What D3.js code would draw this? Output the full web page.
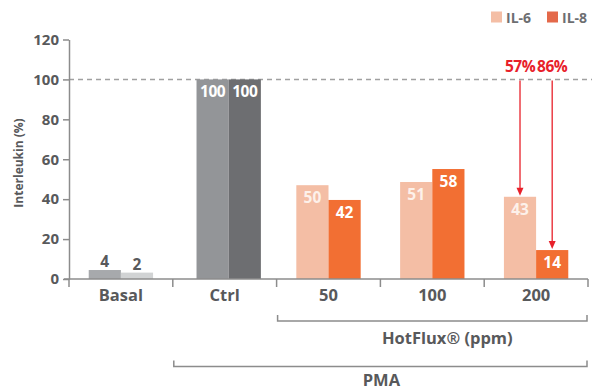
<!DOCTYPE html>
<html><head><meta charset="utf-8">
<script src="https://cdn.jsdelivr.net/npm/d3@7"></script>
<style>
body{margin:0;background:#fff;}
svg{display:block;font-family:"Open Sans",sans-serif;font-weight:700;}
</style></head>
<body><svg id="c" width="595" height="391"></svg>
<script>
const categories = ["Basal","Ctrl","50","100","200"];
const series = ["IL-6","IL-8"];
const valuesA = [4.5, 100, 47, 48.6, 41.2];   // first bar heights (%)
const valuesB = [3.2, 100, 39.6, 55.1, 14.5]; // second bar heights (%)
const labelsA = ["4","100","50","51","43"];
const labelsB = ["2","100","42","58","14"];
const yTicks = [0,20,40,60,80,100,120];
const reductions = [{label:"57%", cat:"200", s:0}, {label:"86%", cat:"200", s:1}];

const colorsA = ["#a7a9ac","#939598","#f4bea5","#f4bea5","#f4bea5"];
const colorsB = ["#d1d3d4","#6d6e71","#f26f33","#f26f33","#f26f33"];
const legendColors = ["#f4bea5","#e4694a"];
const textGray = "#58595b";
const red = "#e8202a";

const svg = d3.select("#c");
const x0 = 69, x1 = 588, yBase = 279;
const x = d3.scaleBand().domain(categories).range([x0,x1]).paddingInner(0.38).paddingOuter(0.19);
const xs = d3.scaleBand().domain([0,1]).range([0,x.bandwidth()]);
const y = d3.scaleLinear().domain([0,120]).range([yBase,39.5]);
const boundary = c => x(c) - x.step()*x.paddingInner()/2;

// dashed reference line at 100
svg.append("line").attr("x1",x0).attr("x2",592).attr("y1",y(100)).attr("y2",y(100))
  .attr("stroke","#a0a0a0").attr("stroke-width",1.5).attr("stroke-dasharray","5,4");

// bars
const data = categories.map((c,i)=>({c,i,vals:[valuesA[i],valuesB[i]],labs:[labelsA[i],labelsB[i]],cols:[colorsA[i],colorsB[i]]}));
const g = svg.append("g").selectAll("g").data(data).join("g")
  .attr("transform",d=>`translate(${x(d.c) + (d.c==="Ctrl"?4:0)},0)`);
g.selectAll("rect").data(d=>[0,1].map(s=>({s,v:d.vals[s],col:d.cols[s]}))).join("rect")
  .attr("x",d=>xs(d.s)).attr("width",xs.bandwidth())
  .attr("y",d=>y(d.v)).attr("height",d=>yBase-y(d.v)).attr("fill",d=>d.col);
g.selectAll("text").data(d=>[0,1].map(s=>({s,v:d.vals[s],lab:d.labs[s],ci:d.i}))).join("text")
  .attr("x",d=>xs(d.s)+xs.bandwidth()/2)
  .attr("y",d=>d.v<10 ? y(d.v)-3 : y(d.v)+18)
  .attr("text-anchor","middle").attr("font-size",15.5)
  .attr("fill",d=>d.v<10 ? textGray : (d.ci>=2 && d.s===0 ? "#fdf1ea" : "#fff"))
  .attr("letter-spacing",d=>d.lab.length>2?-0.5:0)
  .text(d=>d.lab);

// y axis
const ya = svg.append("g").attr("transform",`translate(${x0},0)`)
  .call(d3.axisLeft(y).tickValues(yTicks).tickSize(6).tickSizeOuter(0).tickPadding(4));
ya.select(".domain").attr("stroke","#8c8c8c").attr("stroke-width",1.5);
ya.selectAll(".tick line").attr("stroke","#8c8c8c").attr("stroke-width",1.5);
ya.selectAll(".tick text").attr("fill",textGray).attr("font-size",15).attr("font-family","'Open Sans',sans-serif").attr("font-weight",700);

// x axis
svg.append("line").attr("x1",64).attr("x2",x1).attr("y1",yBase).attr("y2",yBase)
  .attr("stroke","#8c8c8c").attr("stroke-width",1.5);
const bounds = categories.map(boundary).concat([x1]);
svg.append("g").selectAll("line").data(bounds).join("line")
  .attr("x1",d=>d).attr("x2",d=>d).attr("y1",yBase).attr("y2",yBase+8)
  .attr("stroke","#8c8c8c").attr("stroke-width",1.5);
const xa = svg.append("g").attr("transform",`translate(0,${yBase})`)
  .call(d3.axisBottom(x).tickSize(0).tickPadding(0));
xa.select(".domain").remove();
xa.selectAll(".tick text").attr("dy",null).attr("y",21.5).attr("fill",textGray)
  .attr("font-size",16.5).attr("font-family","'Open Sans',sans-serif").attr("font-weight",700);

// brackets
function bracket(xa_, xb, yy, label, ly, off){
  svg.append("path").attr("d",`M${xa_},${yy-6}V${yy}H${xb}V${yy-6}`)
    .attr("fill","none").attr("stroke","#8c8c8c").attr("stroke-width",1.5);
  svg.append("text").attr("x",(xa_+xb)/2+off).attr("y",ly).attr("text-anchor","middle")
    .attr("fill",textGray).attr("font-size",16.5).text(label);
}
bracket(boundary("50")+1, x1-1, 321, "HotFlux® (ppm)", 343.5, 15);
bracket(boundary("Ctrl")+1, x1-1, 366.5, "PMA", 386, 1);

// y label
svg.append("text").attr("transform","translate(23,163) rotate(-90)").attr("text-anchor","middle")
  .attr("fill",textGray).attr("font-size",12).text("Interleukin (%)");

// annotations
const anno = svg.append("g");
reductions.forEach(r=>{
  const i = categories.indexOf(r.cat);
  const v = r.s===0 ? valuesA[i] : valuesB[i];
  const cx = x(r.cat)+xs(r.s)+xs.bandwidth()/2;
  const tip = y(v)-1;
  anno.append("line").attr("x1",cx).attr("x2",cx).attr("y1",y(100)+1).attr("y2",tip-6)
    .attr("stroke",red).attr("stroke-width",1.3);
  anno.append("path").attr("d",`M${cx-3.5},${tip-8}L${cx+3.5},${tip-8}L${cx},${tip}Z`).attr("fill",red);
  anno.append("text").attr("x",cx).attr("y",71.5).attr("text-anchor","middle")
    .attr("fill",red).attr("font-size",15.5).attr("letter-spacing",-0.5).text(r.label);
});

// legend
const lg = svg.append("g");
const lx = [491, 547];
series.forEach((s,i)=>{
  lg.append("rect").attr("x",lx[i]).attr("y",11.5).attr("width",11).attr("height",11).attr("fill",legendColors[i]);
  lg.append("text").attr("x",lx[i]+15).attr("y",22.5).attr("fill","#6d6e71").attr("font-size",14).text(s);
});
</script></body></html>
